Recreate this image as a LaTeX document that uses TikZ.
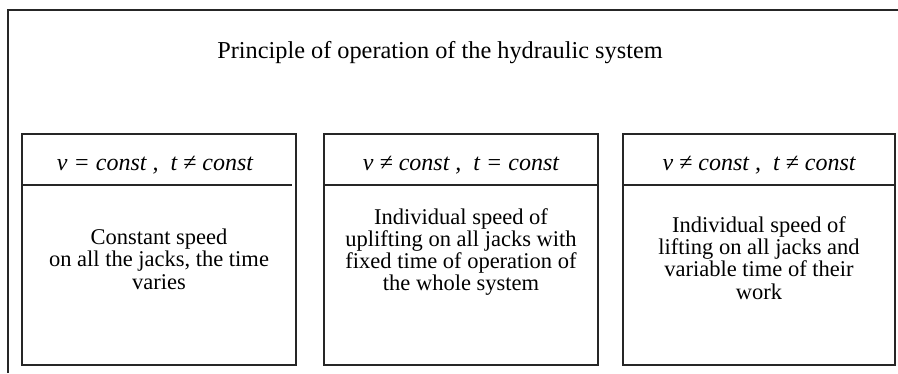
\documentclass[tikz,border=0pt]{standalone}
\usepackage{fontspec}
\setmainfont{Liberation Serif}
\begin{document}
\begin{tikzpicture}[x=1pt,y=-1pt,
  frame/.style={draw=black!85,line width=1.1pt},
  panel/.style={draw=black!85,line width=1.1pt,minimum width=274pt,minimum height=231pt,inner sep=0pt},
  hdr/.style={font=\fontsize{24}{26}\selectfont\itshape,inner sep=0pt,anchor=base},
  body/.style={font=\fontsize{22.5}{22.3}\selectfont,align=center,inner sep=0pt},
  ttl/.style={font=\fontsize{24.3}{28}\selectfont,inner sep=0pt,anchor=base}]
\useasboundingbox (0,0) rectangle (898,373);

% outer frame (open at the right and bottom)
\coordinate (fb) at (8,373);
\coordinate (ft) at (8,10);
\coordinate (fr) at (898,10);
\draw[frame] (fb) -- (ft) -- (fr);

\node[ttl] (title) at (440,58) {Principle of operation of the hydraulic system};

% three panels
\node[panel] (b1) at (159,249.5) {};
\node[panel] (b2) at (461,249.5) {};
\node[panel,minimum width=272pt] (b3) at (759,249.5) {};

% header rules
\coordinate (d1l) at (21,185);
\coordinate (d1r) at (292,185);
\draw[frame] (d1l) -- (d1r);
\draw[frame] (b2.west |- 0,185) -- (b2.east |- 0,185);
\draw[frame] (b3.west |- 0,185) -- (b3.east |- 0,185);

% headers
\node[hdr] (h1) at (155,170) {v = const ,\ \ t ≠ const};
\node[hdr] (h2) at (461,170) {v ≠ const ,\ \ t = const};
\node[hdr] (h3) at (759,170) {v ≠ const ,\ \ t ≠ const};

% descriptions
\node[body] (t1) at (159,259) {Constant speed\\on all the jacks, the time\\varies};
\node[body] (t2) at (461,252) {Individual speed of\\uplifting on all jacks with\\fixed time of operation of\\the whole system};
\node[body] (t3) at (759,258) {Individual speed of\\lifting on all jacks and\\variable time of their\\work};
\end{tikzpicture}
\end{document}
